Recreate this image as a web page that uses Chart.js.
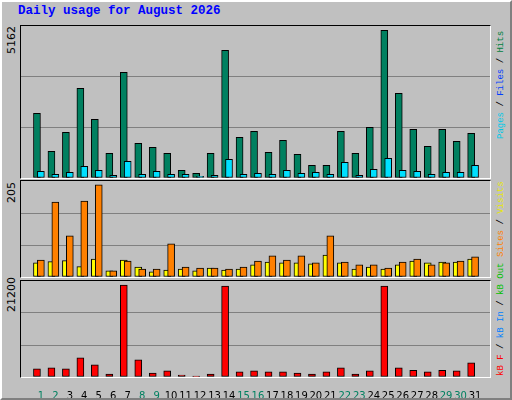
<!DOCTYPE html>
<html>
<head>
<meta charset="utf-8">
<script src="https://cdn.jsdelivr.net/npm/chart.js@4"></script>
<style>
  body { margin: 0; background: #c0c0c0; }
  #frame { position: relative; width: 508px; height: 396px; border: 2px solid; border-color: #fff #808080 #808080 #fff; background: #c0c0c0; overflow: hidden; }
  .box { position: absolute; border-top: 1px solid #000; border-left: 1px solid #000; border-right: 1px solid #fff; border-bottom: 1px solid #fff; background: #c0c0c0; }
  canvas { position: absolute; }
  .vt { position: absolute; transform-origin: 0 0; transform: rotate(-90deg); white-space: nowrap; font-family: 'Liberation Mono', monospace; font-size: 9px; }
  .ylab { position: absolute; transform-origin: 0 0; transform: rotate(-90deg); white-space: nowrap; font-family: 'DejaVu Sans', sans-serif; font-size: 11px; color: #000; }
  #title { position: absolute; left: 16px; top: 2px; font: bold 12.5px 'Liberation Mono', monospace; color: #0000ff; }
</style>
</head>
<body>
<div id="frame">
  <div id="title">Daily usage for August 2026</div>
  <div class="box" style="left:18px;top:23px;width:469px;height:152px"></div>
  <div class="box" style="left:18px;top:178px;width:469px;height:96px"></div>
  <div class="box" style="left:18px;top:278px;width:469px;height:96px"></div>
  <canvas id="c1" width="469" height="152" style="left:19px;top:24px"></canvas>
  <canvas id="c2" width="469" height="96" style="left:19px;top:179px"></canvas>
  <canvas id="c3" width="469" height="118" style="left:19px;top:279px"></canvas>
  <div class="ylab" style="left:3px;top:52px">5162</div>
  <div class="ylab" style="left:3px;top:201px">205</div>
  <div class="ylab" style="left:3px;top:310px">21200</div>
  <div class="vt" style="left:494px;top:137px"><span style="color:#00c8e8">Pages</span> / <span style="color:#0040ff">Files</span> / <span style="color:#008040">Hits</span></div>
  <div class="vt" style="left:494px;top:255px"><span style="color:#ff8000">Sites</span> / <span style="color:#e8e800">Visits</span></div>
  <div class="vt" style="left:494px;top:374px"><span style="color:#ff0000">kB F</span> / <span style="color:#0080ff">kB In</span> / <span style="color:#00c000">kB Out</span></div>
</div>
<script>
const days = Array.from({length: 31}, (_, i) => i + 1);
const weekend = [1, 2, 8, 9, 15, 16, 22, 23, 29, 30];
const hits  = [2200, 907, 1552, 3046, 1993, 839, 3589, 1178, 1042, 839, 261, 160, 839, 4336, 1382, 1586,
               873, 1280, 805, 431, 431, 1586, 839, 1722, 5016, 2876, 1654, 1076, 1654, 1246, 1518];
const files = [230, 125, 194, 397, 261, 92, 567, 125, 230, 125, 125, 58, 92, 635, 125, 160,
               125, 261, 160, 194, 125, 533, 92, 295, 669, 261, 230, 125, 194, 194, 431];
const visits = [30, 33, 35, 22, 38, 13, 36, 21, 11, 15, 17, 13, 19, 15, 17, 26,
                32, 30, 30, 28, 47, 30, 17, 21, 17, 26, 34, 30, 32, 32, 38];
const sites  = [36, 160, 88, 162, 197, 13, 34, 17, 17, 71, 21, 19, 19, 17, 21, 34,
                45, 36, 45, 30, 88, 32, 26, 26, 19, 32, 38, 26, 30, 34, 43];
const kbF = [1785, 2008, 1785, 4240, 2678, 670, 20307, 3794, 893, 1339, 446, 223, 670, 20084, 1116, 1339,
             1116, 1116, 893, 670, 1116, 2008, 670, 1339, 20084, 2008, 1488, 1116, 1488, 1339, 3124];
const maxes = [5162, 205, 21200];

const OFF = 0.27;
const pts = (arr, dx) => arr.map((v, i) => ({x: days[i] + dx, y: v}));
const bar = (label, arr, dx, color) => ({
  label, data: pts(arr, dx), backgroundColor: color, borderColor: '#000', borderWidth: 1,
  barThickness: 7, grouped: false, borderSkipped: false
});

function makeChart(id, datasets, max, showDays) {
  return new Chart(document.getElementById(id), {
    type: 'bar',
    data: { datasets },
    options: {
      responsive: false, animation: false, devicePixelRatio: 1,
      layout: { padding: 0 },
      plugins: { legend: { display: false }, tooltip: { enabled: false } },
      scales: {
        x: {
          type: 'linear', min: 0.42, max: 31.78, display: showDays,
          grid: { display: false }, border: { display: false },
          afterBuildTicks: s => { s.ticks = days.map(d => ({value: d + OFF})); },
          afterFit: s => { s.height = showDays ? 22 : 0; },
          ticks: {
            autoSkip: false, maxRotation: 0, padding: 5,
            font: { family: 'DejaVu Sans', size: 10 },
            color: c => weekend.includes(Math.round(c.tick.value - OFF)) ? '#008060' : '#000',
            callback: v => String(Math.round(v - OFF))
          }
        },
        y: {
          min: 0, max, afterFit: s => { s.width = 0; },
          afterBuildTicks: s => { s.ticks = [0, max / 3, 2 * max / 3, max].map(v => ({value: v})); },
          ticks: { display: false },
          border: { display: false },
          grid: { drawTicks: false, color: c => (c.index === 1 || c.index === 2) ? '#808080' : 'rgba(0,0,0,0)' }
        }
      }
    }
  });
}

makeChart('c1', [bar('Files', files, OFF, '#00e0ff'), bar('Hits', hits, 0, '#008060')], maxes[0], false);
makeChart('c2', [bar('Sites', sites, OFF, '#ff8000'), bar('Visits', visits, 0, '#ffff00')], maxes[1], false);
makeChart('c3', [bar('kB F', kbF, 0, '#ff0000')], maxes[2], true);
</script>
</body>
</html>
